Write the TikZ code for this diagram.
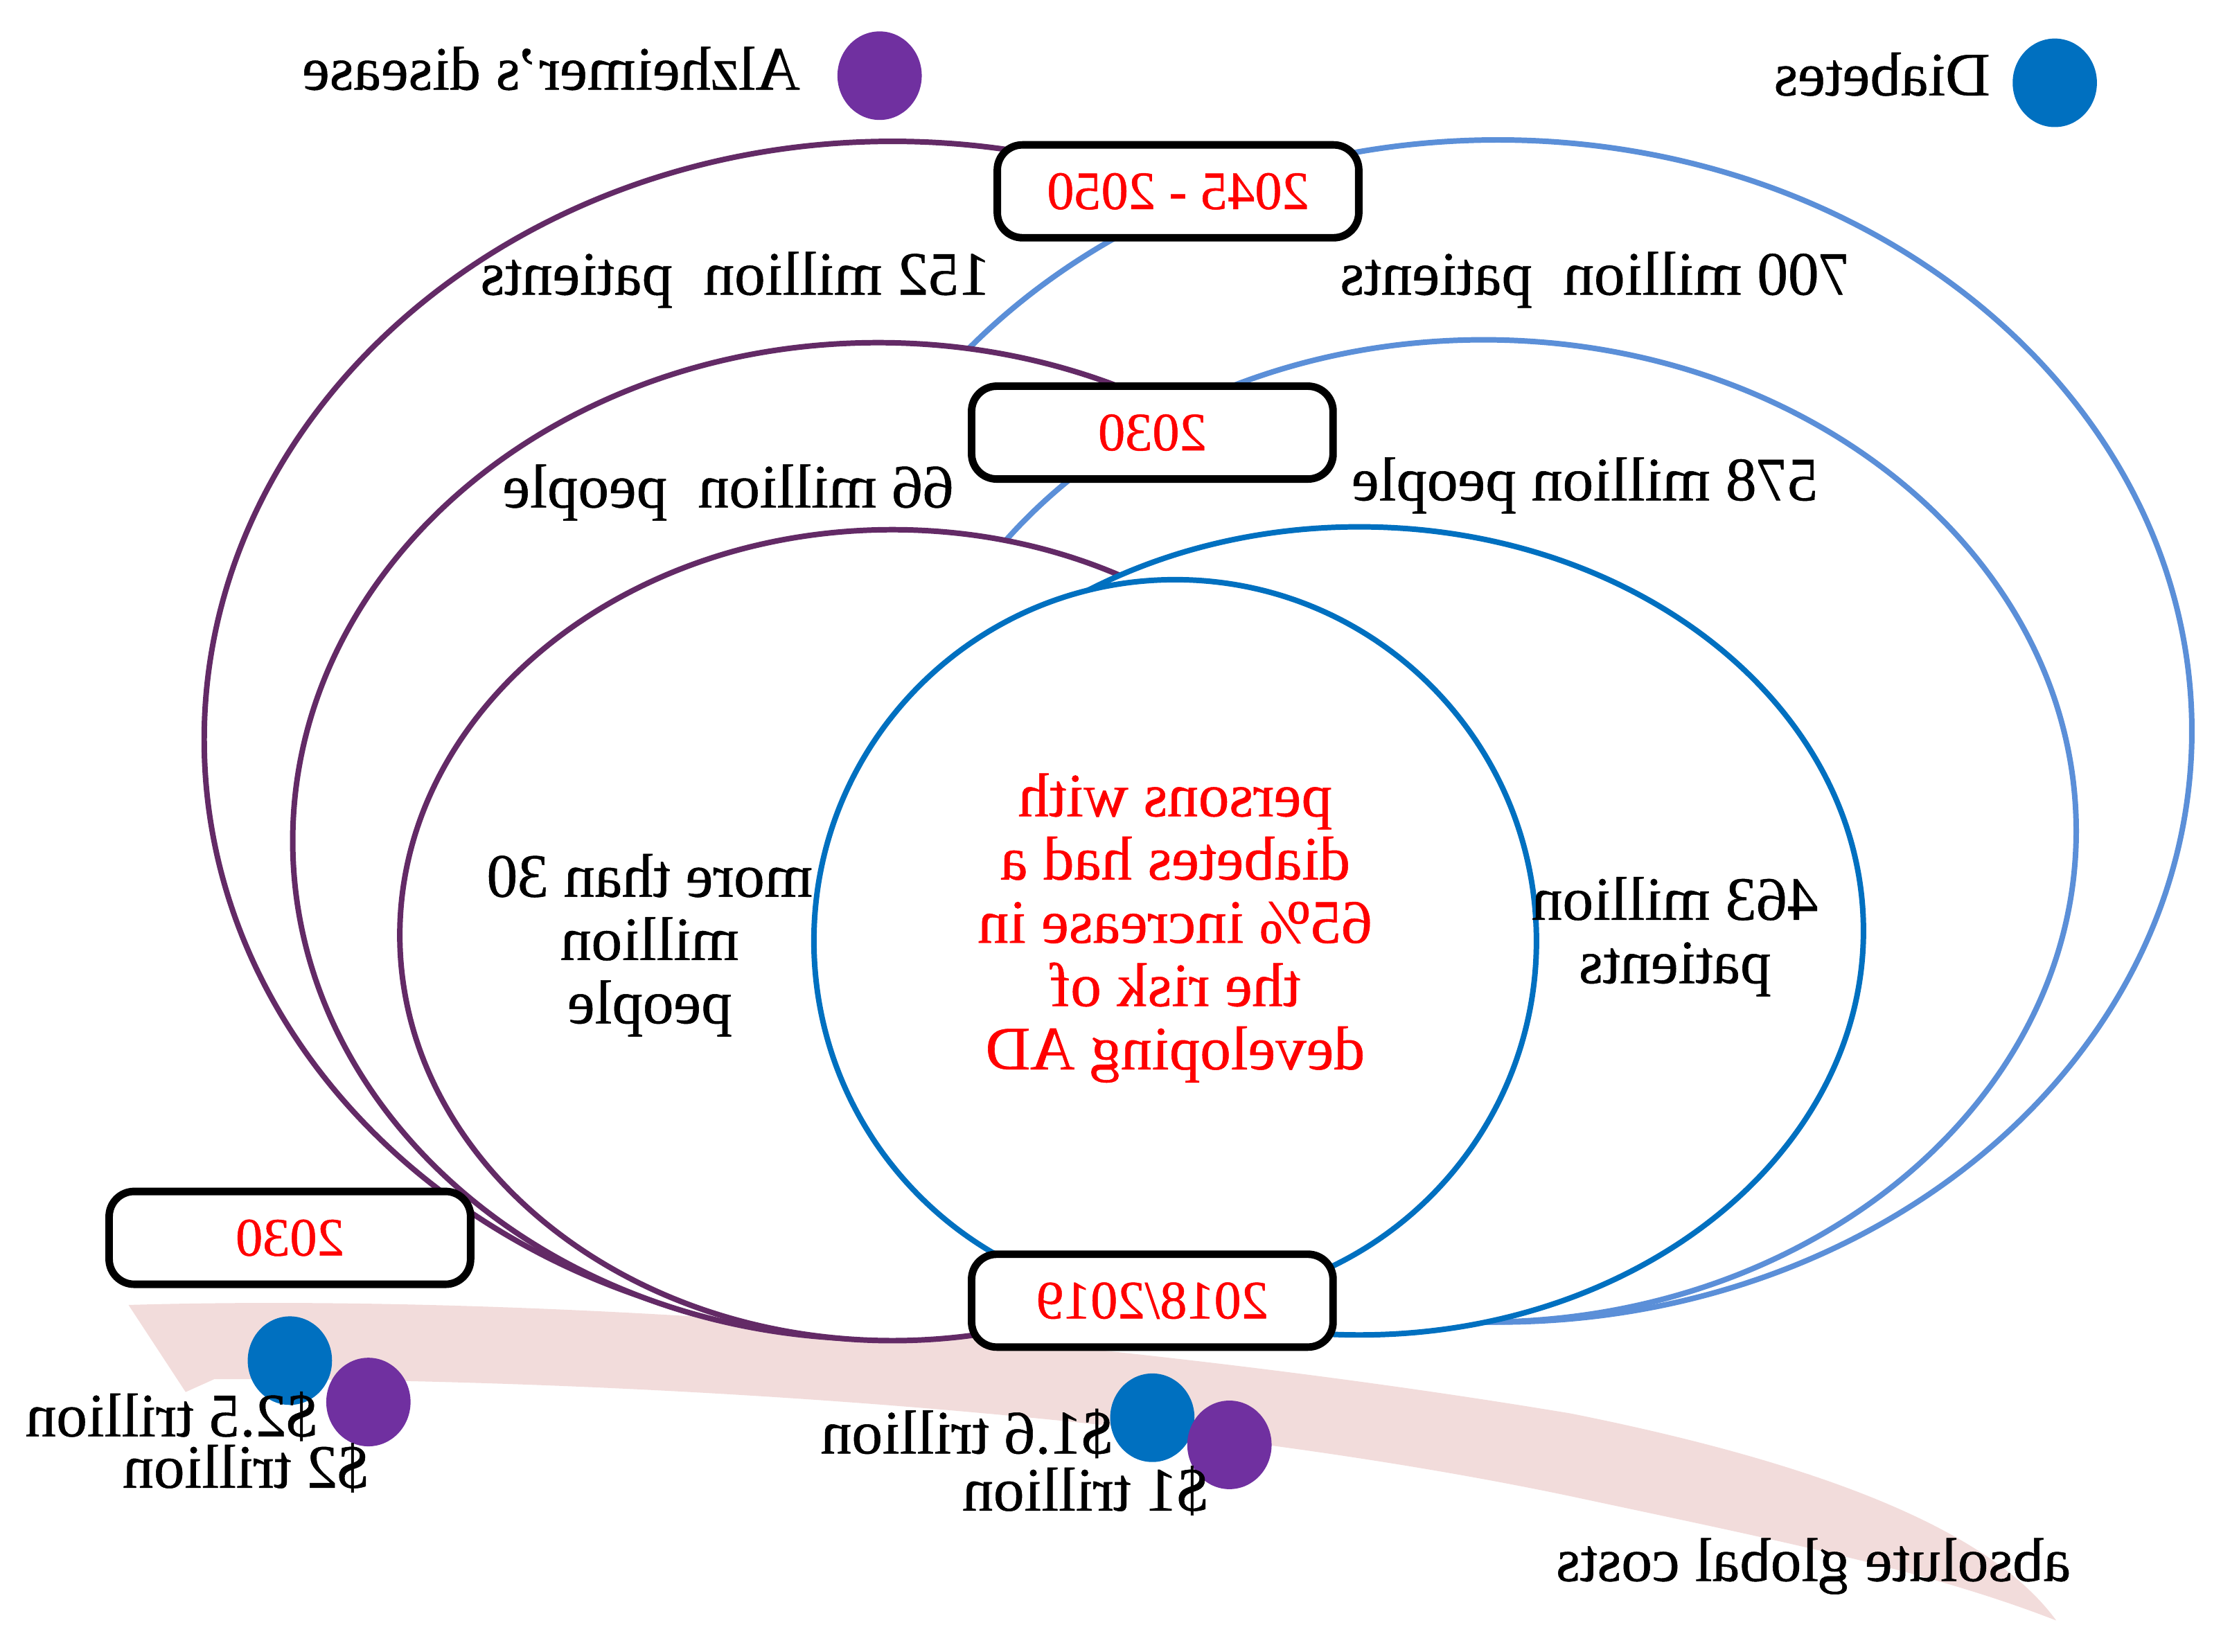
\documentclass[tikz,border=0pt]{standalone}
\usepackage{fontspec}
\setmainfont{Liberation Serif}[FakeBold=0.6]
\usepackage{tikz}
\usetikzlibrary{shapes,positioning}
\usepackage{xcolor}
\definecolor{mpurple}{HTML}{632A66}
\definecolor{dpurple}{HTML}{7030A0}
\definecolor{dblue}{HTML}{0070C0}
\definecolor{lblue}{HTML}{5B8FD8}
\definecolor{mpink}{HTML}{F2DCDB}
\tikzstyle{ringline}=[line width=1.1pt, fill=white]
\tikzstyle{pring}=[ringline, draw=mpurple]
\tikzstyle{lbring}=[ringline, draw=lblue]
\tikzstyle{dbring}=[ringline, draw=dblue]
\tikzstyle{yearbox}=[draw=black, line width=1.5pt, fill=white, rounded corners=5pt, minimum width=2.53cm, minimum height=0.65cm, text=red, font=\fontsize{10.8}{12}\selectfont, xscale=-1]
\tikzstyle{lbl}=[font=\fontsize{12.3}{12.6}\selectfont, align=center, inner sep=0pt, xscale=-1]
\tikzstyle{spot}=[ellipse, minimum width=0.59cm, minimum height=0.62cm, inner sep=0pt]
\tikzstyle{adot}=[spot, fill=dpurple]
\tikzstyle{ddot}=[spot, fill=dblue]

\begin{document}
\begin{tikzpicture}[x=0.01cm,y=-0.01cm]
    \useasboundingbox (0,0) rectangle (1568,1157);

    % cost arrow
    \fill[mpink] (90,914) .. controls (400,905) and (800,940) .. (1100,990)
        .. controls (1300,1030) and (1400,1080) .. (1440,1135)
        .. controls (1350,1100) and (1250,1080) .. (1100,1048)
        .. controls (800,985) and (400,965) .. (150,966) -- (130,975) -- cycle;

    % rings, outer to inner
    \draw[pring]  (625,518) ellipse [x radius=482, y radius=419];
    \draw[lbring] (1049,512) ellipse [x radius=486, y radius=414];
    \draw[pring]  (615,589) ellipse [x radius=410, y radius=349];
    \draw[lbring] (1039,582) ellipse [x radius=415, y radius=344];
    \draw[pring]  (625,655) ellipse [x radius=345, y radius=284];
    \draw[dbring] (952,652) ellipse [x radius=353, y radius=283];
    \draw[dbring] (823,659) circle [radius=253];

    \node[yearbox] (yr2050) at (825,134) {2045 - 2050};
    \node[yearbox] (yr2030) at (807,303) {2030};
    \node[yearbox] (yr2019) at (807,911) {2018/2019};
    \node[yearbox] (yrcost) at (203,867) {2030};

    \node[adot] (adleg) at (616,53) {};
    \node[ddot] (dmleg) at (1439,58) {};
    \node[ddot] (dmcost1) at (203,953) {};
    \node[adot] (adcost1) at (258,982) {};
    \node[ddot] (dmcost2) at (807,993) {};
    \node[adot] (adcost2) at (861,1012) {};

    \node[lbl] (adname) at (386,48) {Alzheimer's disease};
    \node[lbl] (dmname) at (1318,52) {Diabetes};
    \node[lbl] (ad2050) at (515,196) {152 million\ \ patients};
    \node[lbl] (dm2050) at (1117,196) {700 million\ \ patients};
    \node[lbl] (ad2030) at (510,345) {66 million\ \ people};
    \node[lbl] (dm2030) at (1110,340) {578 million people};
    \node[lbl] (ad2019) at (455,662) {more than 30\\million\\people};
    \node[lbl] (dm2019) at (1173,656) {463 million\\patients};
    \node[lbl, text=red] (risk) at (823,650) {persons with\\diabetes had a\\65\% increase in\\the risk of\\developing AD};
    \node[lbl] (dmcostlbl1) at (120,992) {\$2.5 trillion};
    \node[lbl] (adcostlbl1) at (172,1028) {\$2 trillion};
    \node[lbl] (dmcostlbl2) at (677,1004) {\$1.6 trillion};
    \node[lbl] (adcostlbl2) at (760,1044) {\$1 trillion};
    \node[lbl] (costs) at (1270,1097) {absolute global costs};
\end{tikzpicture}
\end{document}
